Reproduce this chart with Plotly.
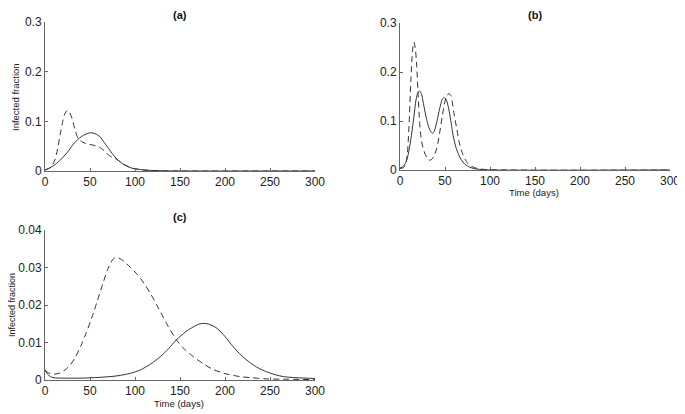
import plotly.graph_objects as go

# ---------------- data ----------------
# Panel (a)
a_solid_t = [0, 8, 17, 25, 32, 38, 43, 48, 52, 57, 61, 66, 72, 77, 81, 86, 91, 96, 102, 110, 120, 135, 150, 300]
a_solid_v = [0.002, 0.009, 0.022, 0.038, 0.055, 0.066, 0.072, 0.076, 0.077, 0.074, 0.069, 0.057, 0.042, 0.030,
             0.022, 0.015, 0.010, 0.006, 0.004, 0.002, 0.001, 0.0003, 0.0, 0.0]
a_dash_t = [0, 5, 8, 11, 14, 17, 20, 22, 25, 27, 30, 33, 37, 42, 48, 54, 59, 63, 68, 72, 77, 81, 86, 91, 96,
            102, 110, 120, 135, 150, 300]
a_dash_v = [0.002, 0.006, 0.012, 0.022, 0.045, 0.075, 0.102, 0.115, 0.122, 0.119, 0.106, 0.085, 0.065, 0.058,
            0.054, 0.052, 0.049, 0.045, 0.037, 0.030, 0.026, 0.022, 0.015, 0.010, 0.006, 0.004, 0.002, 0.001,
            0.0003, 0.0, 0.0]

# Panel (b)
b_solid_t = [0, 4, 7, 9, 12, 15, 18, 20, 22, 24, 26, 29, 32, 34, 36, 38, 41, 44, 47, 49, 51, 54, 57, 59, 62,
             65, 68, 72, 76, 82, 90, 100, 300]
b_solid_v = [0.004, 0.008, 0.018, 0.031, 0.062, 0.102, 0.145, 0.158, 0.161, 0.154, 0.136, 0.108, 0.087, 0.079,
             0.075, 0.079, 0.099, 0.125, 0.144, 0.148, 0.145, 0.126, 0.094, 0.071, 0.047, 0.032, 0.021, 0.012,
             0.007, 0.003, 0.001, 0.0, 0.0]
b_dash_t = [0, 4, 6, 8, 10, 12, 14, 15.5, 17, 18.5, 20, 22, 24, 27, 30, 33, 36, 38, 41, 44, 47, 50, 52, 54.5,
            56.5, 58, 60, 63, 66, 70, 75, 80, 86, 95, 300]
b_dash_v = [0.003, 0.005, 0.010, 0.030, 0.090, 0.180, 0.245, 0.261, 0.248, 0.214, 0.160, 0.092, 0.058, 0.037,
            0.025, 0.020, 0.023, 0.030, 0.045, 0.075, 0.110, 0.140, 0.152, 0.156, 0.152, 0.139, 0.115, 0.085,
            0.055, 0.031, 0.014, 0.007, 0.003, 0.001, 0.0]

# Panel (c)
c_solid_t = [0, 3, 6, 10, 20, 40, 60, 80, 95, 106, 117, 128, 137, 146, 156, 165, 171, 176, 182, 191, 200, 209,
             218, 228, 237, 246, 256, 265, 280, 300]
c_solid_v = [0.0027, 0.0015, 0.0009, 0.0006, 0.0005, 0.0005, 0.0007, 0.0011, 0.0018, 0.0027, 0.0042, 0.0062,
             0.0083, 0.0107, 0.0128, 0.0142, 0.0149, 0.0151, 0.0149, 0.0138, 0.0116, 0.0089, 0.0066, 0.0046,
             0.0032, 0.0022, 0.0014, 0.0009, 0.0006, 0.0004]
c_dash_t = [0, 4, 8, 12, 17, 22, 28, 34, 40, 46, 52, 58, 64, 70, 75, 78, 82, 88, 95, 103, 110, 118, 126, 135,
            146, 155, 165, 176, 187, 200, 217, 230, 246, 270, 300]
c_dash_v = [0.0025, 0.0019, 0.0016, 0.0016, 0.0019, 0.0026, 0.0040, 0.0062, 0.0092, 0.0127, 0.0166, 0.0210,
            0.0255, 0.0297, 0.0320, 0.0327, 0.0325, 0.0316, 0.0300, 0.0280, 0.0258, 0.0227, 0.0192, 0.0151,
            0.0107, 0.0082, 0.0062, 0.0043, 0.0028, 0.0017, 0.0009, 0.0006, 0.0003, 0.0002, 0.0001]

x_ticks = [0, 50, 100, 150, 200, 250, 300]
y_ticks_ab = [0, 0.1, 0.2, 0.3]
y_ticklabels_ab = ["0", "0.1", "0.2", "0.3"]
y_ticks_c = [0, 0.01, 0.02, 0.03, 0.04]
y_ticklabels_c = ["0", "0.01", "0.02", "0.03", "0.04"]

panel_titles = ["(a)", "(b)", "(c)"]
y_title = "Infected fraction"
x_title = "Time (days)"

# ---------------- figure ----------------
# The page body adds an 8px margin, so the figure fills the window minus that offset.
OFF = 8
W, H = 685 - OFF, 414 - OFF
LINE_COLOR = "#333333"
AXIS_COLOR = "#666666"
FONT = "Liberation Sans, Arial, Helvetica, sans-serif"

fig = go.Figure()

def add_pair(t_s, v_s, t_d, v_d, xa, ya):
    fig.add_trace(go.Scatter(x=t_s, y=v_s, mode="lines", xaxis=xa, yaxis=ya,
                             line=dict(color=LINE_COLOR, width=1, shape="spline", smoothing=0.8),
                             showlegend=False, hoverinfo="skip"))
    fig.add_trace(go.Scatter(x=t_d, y=v_d, mode="lines", xaxis=xa, yaxis=ya,
                             line=dict(color=LINE_COLOR, width=1, shape="spline", smoothing=0.8,
                                       dash="6px,4px"),
                             showlegend=False, hoverinfo="skip"))

add_pair(a_solid_t, a_solid_v, a_dash_t, a_dash_v, "x", "y")
add_pair(b_solid_t, b_solid_v, b_dash_t, b_dash_v, "x2", "y2")
add_pair(c_solid_t, c_solid_v, c_dash_t, c_dash_v, "x3", "y3")

def px_x(p):
    return max(0.0, (p - OFF) / W)

def px_y(p):
    return min(1.0, 1 - (p - OFF) / H)

axis_common = dict(showline=True, linecolor=AXIS_COLOR, linewidth=1, ticks="inside", ticklen=3,
                   tickcolor=AXIS_COLOR, tickwidth=1, showgrid=False, zeroline=False, mirror=False,
                   automargin=False,
                   tickfont=dict(family=FONT, size=12, color="#222222"))

fig.update_layout(
    width=W, height=H,
    margin=dict(l=0, r=0, t=0, b=0, pad=0, autoexpand=False),
    paper_bgcolor="white", plot_bgcolor="white",
    font=dict(family=FONT, color="#222222"),
    xaxis=dict(domain=[px_x(45), px_x(315)], range=[0, 300], tickvals=x_ticks, anchor="y", **axis_common),
    yaxis=dict(domain=[px_y(171), px_y(22)], range=[0, 0.3], tickvals=y_ticks_ab,
               ticktext=y_ticklabels_ab, anchor="x", **axis_common),
    xaxis2=dict(domain=[px_x(400), px_x(670)], range=[0, 300], tickvals=x_ticks, anchor="y2", **axis_common),
    yaxis2=dict(domain=[px_y(170), px_y(23)], range=[0, 0.3], tickvals=y_ticks_ab,
                ticktext=y_ticklabels_ab, anchor="x2", **axis_common),
    xaxis3=dict(domain=[px_x(45), px_x(315)], range=[0, 300], tickvals=x_ticks, anchor="y3", **axis_common),
    yaxis3=dict(domain=[px_y(380), px_y(230)], range=[0, 0.04], tickvals=y_ticks_c,
                ticktext=y_ticklabels_c, anchor="x3", **axis_common),
)

ann = []
# panel titles: (a) and (b) sit at the very top, pinned to the top edge
ann.append(dict(text="<b>%s</b>" % panel_titles[0], x=px_x(180), y=1.0, xref="paper", yref="paper",
                showarrow=False, xanchor="center", yanchor="top", borderpad=0,
                font=dict(family=FONT, size=11, color="#111111")))
ann.append(dict(text="<b>%s</b>" % panel_titles[1], x=px_x(535), y=1.0, xref="paper", yref="paper",
                showarrow=False, xanchor="center", yanchor="top", borderpad=0,
                font=dict(family=FONT, size=11, color="#111111")))
ann.append(dict(text="<b>%s</b>" % panel_titles[2], x=px_x(180), y=px_y(217), xref="paper", yref="paper",
                showarrow=False, xanchor="center", yanchor="middle",
                font=dict(family=FONT, size=11, color="#111111")))
# y titles
ann.append(dict(text=y_title, x=px_x(15), y=px_y(97), xref="paper", yref="paper", textangle=-90,
                showarrow=False, xanchor="center", yanchor="middle",
                font=dict(family=FONT, size=9.5, color="#222222")))
ann.append(dict(text=y_title, x=0.0, y=px_y(305), xref="paper", yref="paper", textangle=-90,
                showarrow=False, xanchor="left", yanchor="middle", borderpad=0, xshift=-2,
                font=dict(family=FONT, size=9, color="#222222")))
# x titles
for (cx, cy) in [(534, 193), (179, 403)]:
    ann.append(dict(text=x_title, x=px_x(cx), y=px_y(cy), xref="paper", yref="paper",
                    showarrow=False, xanchor="center", yanchor="middle",
                    font=dict(family=FONT, size=9.5, color="#222222")))
fig.update_layout(annotations=ann)

fig.write_html("out.html")
